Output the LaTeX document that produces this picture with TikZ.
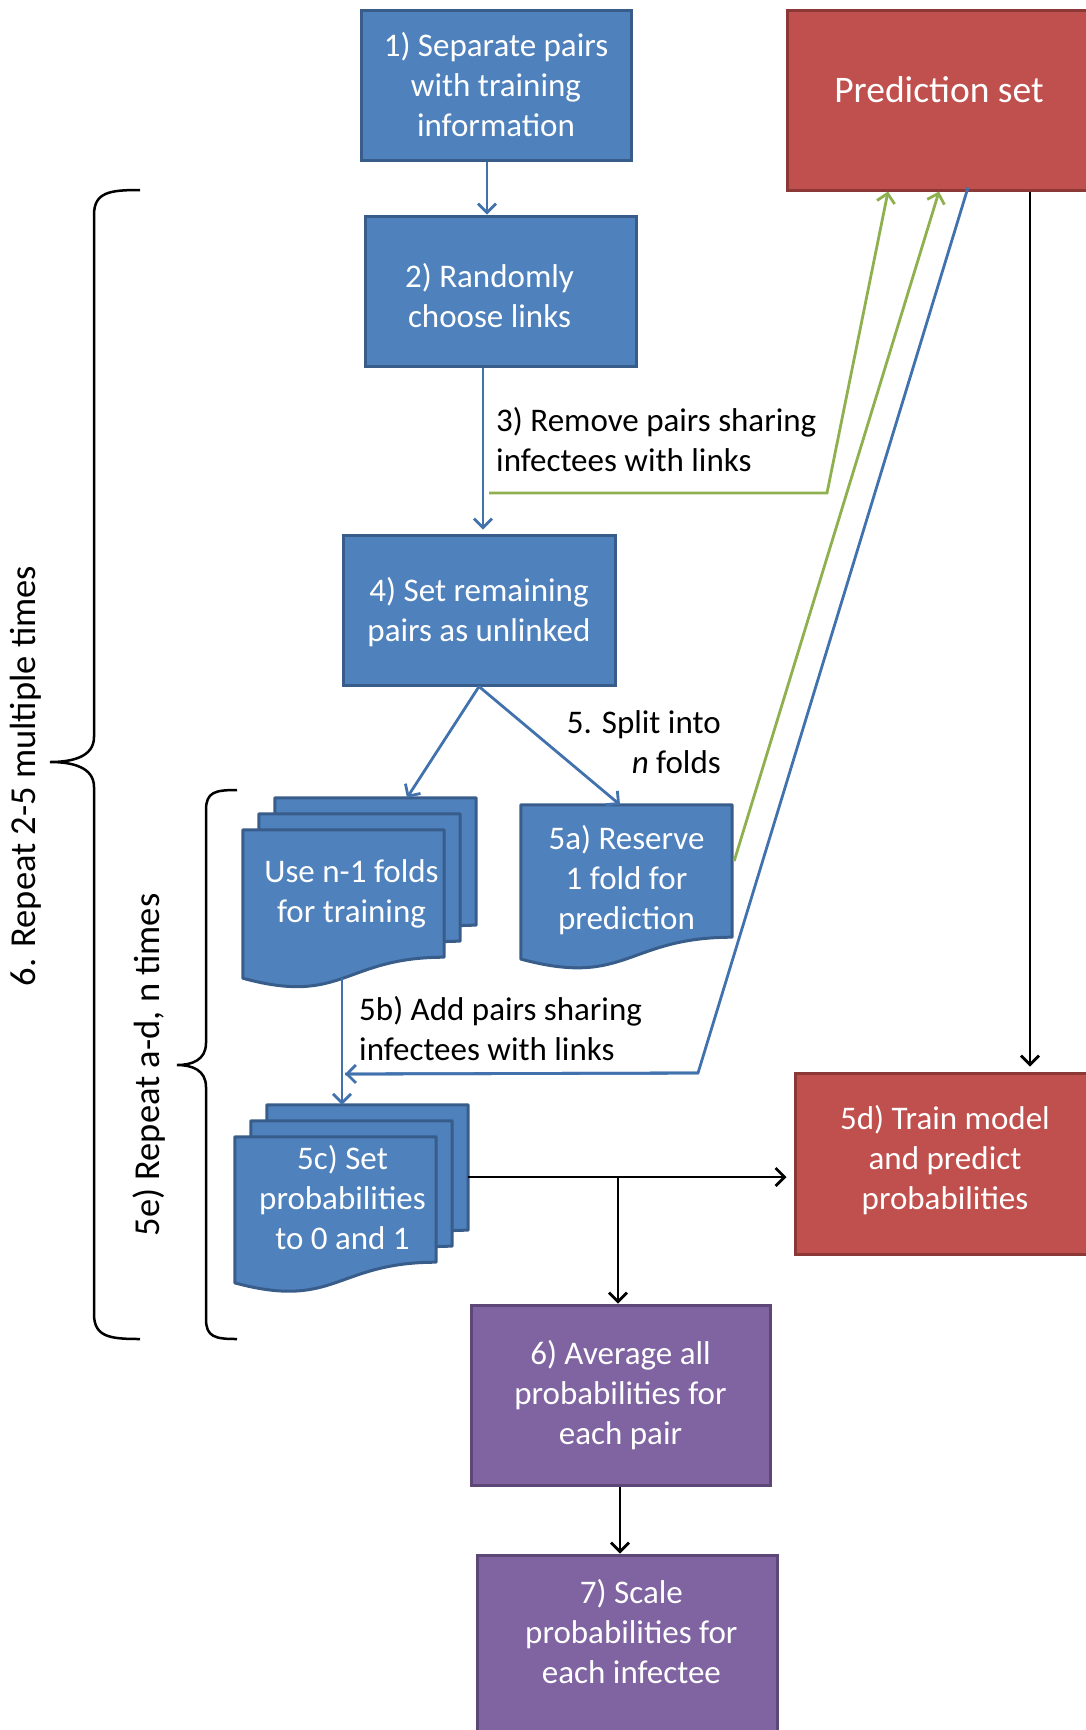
\documentclass[tikz,border=0pt]{standalone}
\usepackage{fontspec}
\setmainfont{Carlito}
\usetikzlibrary{arrows.meta,calc}
\definecolor{bfill}{HTML}{4F81BD}
\definecolor{bdraw}{HTML}{385D8A}
\definecolor{rfill}{HTML}{C0504D}
\definecolor{rdraw}{HTML}{8C3836}
\definecolor{pfill}{HTML}{8064A2}
\definecolor{pdraw}{HTML}{5C4776}
\definecolor{gline}{HTML}{8FB04E}
\definecolor{bline}{HTML}{4172AE}
\pgfdeclarelayer{background}
\pgfsetlayers{background,main}
\newcommand{\docshape}[2]{%
 \path[#2] (#1.north west) -- (#1.north east) -- (#1.south east)
 .. controls (#1.south) and ($(#1.north)!1.381!(#1.south)$) .. ($(#1.north west)!1.165!(#1.south west)$) -- cycle;}
\begin{document}
\begin{tikzpicture}[x=1pt,y=-1pt,
 txt/.style={font=\fontsize{33}{40}\selectfont},
 box/.style={rectangle, line width=3pt, inner sep=0pt},
 bluebox/.style={box, fill=bfill, draw=bdraw},
 redbox/.style={box, fill=rfill, draw=rdraw},
 purplebox/.style={box, fill=pfill, draw=pdraw},
 intext/.style={text=white, align=center, txt, inner sep=0pt},
 docarea/.style={rectangle, inner sep=0pt},
 docfill/.style={fill=bfill, draw=bdraw, line width=3pt, line join=round},
 lab/.style={txt, inner sep=0pt},
 sidelab/.style={font=\fontsize{36.5}{42}\selectfont, inner sep=0pt, rotate=90},
 tipv/.style={-{Straight Barb[length=9pt,width=18pt]}},
 bconn/.style={line width=2.8pt, draw=bline, tipv},
 gconn/.style={line width=2.8pt, draw=gline, tipv},
 kconn/.style={line width=2.8pt, draw=black, tipv},
 bracepath/.style={line width=2.5pt, draw=black}
]
\useasboundingbox (0,0) rectangle (1085,1730);

% boxes
\node[bluebox, minimum width=270pt, minimum height=150pt] (b1) at (496,85) {};
\node[redbox, minimum width=308pt, minimum height=180pt] (pred) at (941,100) {};
\node[bluebox, minimum width=271pt, minimum height=150pt] (b2) at (500.5,291) {};
\node[bluebox, minimum width=272pt, minimum height=150pt] (b4) at (479,610) {};
\node[redbox, minimum width=300pt, minimum height=181pt] (d5) at (945,1163.5) {};
\node[purplebox, minimum width=299pt, minimum height=180pt] (b6) at (620.5,1395) {};
\node[purplebox, minimum width=300pt, minimum height=180pt] (b7) at (627,1645) {};

\node[intext] (b1t) at (b1) {1) Separate pairs\\with training\\information};
\node[intext, font=\fontsize{37.5}{44}\selectfont] (predt) at ($(pred)+(-2,-10)$) {Prediction set};
\node[intext] (b2t) at ($(b2)+(-11,4.4)$) {2) Randomly\\choose links};
\node[intext] (b4t) at ($(b4)+(0,2.2)$) {4) Set remaining\\pairs as unlinked};
\node[intext] (d5t) at ($(d5)+(0,-3.3)$) {5d) Train model\\and predict\\probabilities};
\node[intext] (b6t) at (b6) {6) Average all\\probabilities for\\each pair};
\node[intext] (b7t) at ($(b7)+(4.4,-13.3)$) {7) Scale\\probabilities for\\each infectee};

% documents
\node[docarea, minimum width=201pt, minimum height=127pt] (use) at (343.5,893.5) {};
\node[docarea, minimum width=201pt, minimum height=127pt] (use2) at ($(use)+(16,-16)$) {};
\node[docarea, minimum width=201pt, minimum height=127pt] (use3) at ($(use)+(32,-32)$) {};
\node[docarea, minimum width=211pt, minimum height=132pt] (res) at (626.5,871) {};
\node[docarea, minimum width=201pt, minimum height=125pt] (setp) at (335.5,1199.5) {};
\node[docarea, minimum width=201pt, minimum height=125pt] (setp2) at ($(setp)+(16,-16)$) {};
\node[docarea, minimum width=201pt, minimum height=125pt] (setp3) at ($(setp)+(32,-32)$) {};
\begin{pgfonlayer}{background}
\docshape{use3}{docfill}
\docshape{use2}{docfill}
\docshape{use}{docfill}
\docshape{res}{docfill}
\docshape{setp3}{docfill}
\docshape{setp2}{docfill}
\docshape{setp}{docfill}
\end{pgfonlayer}
\node[intext] (uset) at ($(use)+(8,0)$) {Use n-1 folds\\for training};
\node[intext] (rest) at ($(res)+(0,9.5)$) {5a) Reserve\\1 fold for\\prediction};
\node[intext] (setpt) at ($(setp)+(7,-2)$) {5c) Set\\probabilities\\to 0 and 1};

% labels
\node[lab, anchor=west, align=left] (l3) at (496,440) {3) Remove pairs sharing\\infectees with links};
\node[lab, anchor=east, align=right] (l5) at (721,742) {5. Split into\\\textit{n} folds};
\node[lab, anchor=west, align=left] (l5b) at (359,1029) {5b) Add pairs sharing\\infectees with links};
\node[sidelab] (l6) at (26,776) {6. Repeat 2-5 multiple times};
\node[sidelab] (l5e) at (149,1065) {5e) Repeat a-d, n times};

% helper coordinates
\coordinate (x487) at (487,0);
\coordinate (x483) at (483,0);
\coordinate (gA) at (888,0);
\coordinate (gB) at (939,0);
\coordinate (bA) at (968,0);
\coordinate (kA) at (1030,0);
\coordinate (g1) at (489,493);
\coordinate (g2) at (827,493);
\coordinate (bl1) at (698,1073);
\coordinate (bl2) at (345,1074);
\coordinate (useBot) at (342,978);
\coordinate (x342) at (342,0);
\coordinate (y1177) at (0,1177);
\coordinate (br) at (618,1177);
\coordinate (x620) at (620,0);
\coordinate (t1) at (407,0);
\coordinate (t2) at (620,0);

% connectors
\draw[bconn] (b1.south -| x487) -- (b2.north -| x487);
\draw[bconn] (b2.south -| x483) -- ($(b4.north -| x483)+(0,-4)$);
\draw[gconn] (g1) -- (g2) -- (pred.south -| gA);
\draw[gconn] ($(res.east)+(2,-10)$) -- (pred.south -| gB);
\draw[bconn, -] ($(pred.south -| bA)+(0,-4)$) -- (bl1) -- (bl2);
\draw[bconn] (bl1) -- (bl2);
\draw[kconn] (pred.south -| kA) -- ($(d5.north -| kA)+(0,-5)$);
\draw[bconn] (b4.south) -- (use3.north -| t1);
\draw[bconn] (b4.south) -- (res.north -| t2);
\draw[bconn] (useBot) -- (setp3.north -| x342);
\draw[kconn] (setp3.east |- y1177) -- ($(d5.west |- y1177)+(-7,0)$);
\draw[kconn] (br) -- (b6.north -| br);
\draw[kconn] (b6.south -| x620) -- (b7.north -| x620);

% braces
\draw[bracepath] (140,190) .. controls (110,190) and (94,192) .. (94,215) -- (94,737) .. controls (94,757) and (72,762) .. (50,762) .. controls (72,762) and (94,767) .. (94,787) -- (94,1314) .. controls (94,1337) and (110,1339) .. (140,1339);
\draw[bracepath] (237,790) .. controls (215,790) and (206,792) .. (206,810) -- (206,1043) .. controls (206,1060) and (192,1065) .. (177,1065) .. controls (192,1065) and (206,1070) .. (206,1087) -- (206,1319) .. controls (206,1337) and (215,1339) .. (237,1339);
\end{tikzpicture}
\end{document}
